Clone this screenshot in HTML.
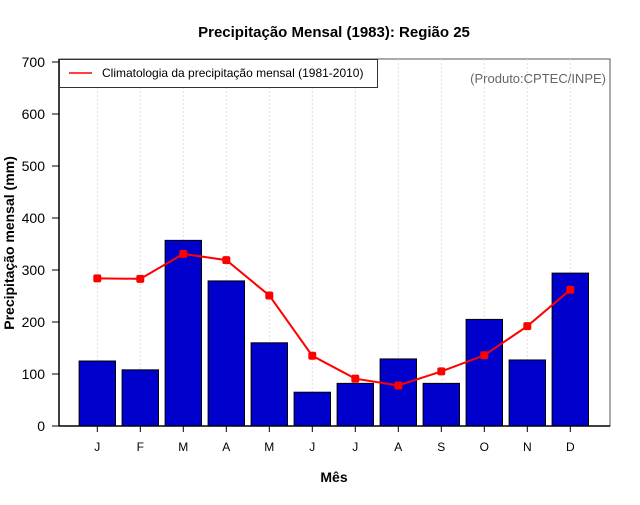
<!DOCTYPE html>
<html><head><meta charset="utf-8"><style>
body{margin:0;background:#fff;font-family:"Liberation Sans",sans-serif}
</style></head><body>
<svg width="640" height="500" xmlns="http://www.w3.org/2000/svg" font-family="Liberation Sans, sans-serif">
<text x="334" y="37" text-anchor="middle" font-size="15" font-weight="bold">Precipitação Mensal (1983): Região 25</text>
<rect x="59" y="59" width="551" height="367" fill="none" stroke="#555" stroke-width="1"/>
<g id="grid"></g>
<g id="bars"></g>
<g id="line"></g>
<g id="axes"></g>
<line x1="59" y1="59" x2="59" y2="426" stroke="#000" stroke-width="1.5"/>
<line x1="59" y1="426" x2="610" y2="426" stroke="#000" stroke-width="1.5"/>
<g>
<rect x="59.5" y="59.5" width="318" height="28" fill="#fff" stroke="#333"/>
<line x1="69" y1="73" x2="92" y2="73" stroke="red" stroke-width="1.5"/>
<text x="102" y="77" font-size="12">Climatologia da precipitação mensal (1981-2010)</text>
</g>
<text x="606" y="83" text-anchor="end" font-size="13" fill="#666">(Produto:CPTEC/INPE)</text>
<text transform="translate(14,243) rotate(-90)" text-anchor="middle" font-size="14" font-weight="bold">Precipitação mensal (mm)</text>
<text x="334" y="482" text-anchor="middle" font-size="14" font-weight="bold">Mês</text>
</svg>
<script>
const months=["J","F","M","A","M","J","J","A","S","O","N","D"];
const precip1983=[125,108,357,279,160,65,82,129,82,205,127,294];
const climatology=[284,283,331,319,251,135,91,78,105,136,192,262];
const yTicks=[0,100,200,300,400,500,600,700];
const NS="http://www.w3.org/2000/svg";
const xs=i=>97.3+i*43;
const ys=v=>426-v*0.52;
function mk(t,a,p){const e=document.createElementNS(NS,t);for(const k in a)e.setAttribute(k,a[k]);p.appendChild(e);return e;}
const grid=document.getElementById('grid'),bars=document.getElementById('bars'),line=document.getElementById('line'),axes=document.getElementById('axes');
months.forEach((m,i)=>{
 const g=mk('line',{x1:xs(i),x2:xs(i),y1:59,y2:426,stroke:'#ddd','stroke-dasharray':'2,2'},grid);
 
 
 const b=mk('rect',{x:xs(i)-18.2,y:ys(precip1983[i]),width:36.4,height:precip1983[i]*0.52,fill:'#0000cd',stroke:'#000','stroke-width':1},bars);
 
 
 const t=mk('line',{x1:xs(i),x2:xs(i),y1:426,y2:432,stroke:'#000'},axes);
 
 
 const l=mk('text',{x:xs(i),y:451,'text-anchor':'middle','font-size':12},axes);
 l.textContent=m;
 
 
});
const pts=climatology.map((v,i)=>xs(i)+','+ys(v)).join(' ');
const pl=mk('polyline',{points:pts,fill:'none',stroke:'red','stroke-width':2},line);


climatology.forEach((v,i)=>{
 const c=mk('rect',{x:xs(i)-4,y:ys(v)-4,width:8,height:8,rx:2,fill:'red'},line);
 
 
});
yTicks.forEach(v=>{
 const t=mk('line',{x1:52,x2:59,y1:ys(v),y2:ys(v),stroke:'#000'},axes);
 
 
 const l=mk('text',{x:45,y:ys(v)+5,'text-anchor':'end','font-size':14},axes);
 l.textContent=v;
 
 
});
</script>
</body></html>
